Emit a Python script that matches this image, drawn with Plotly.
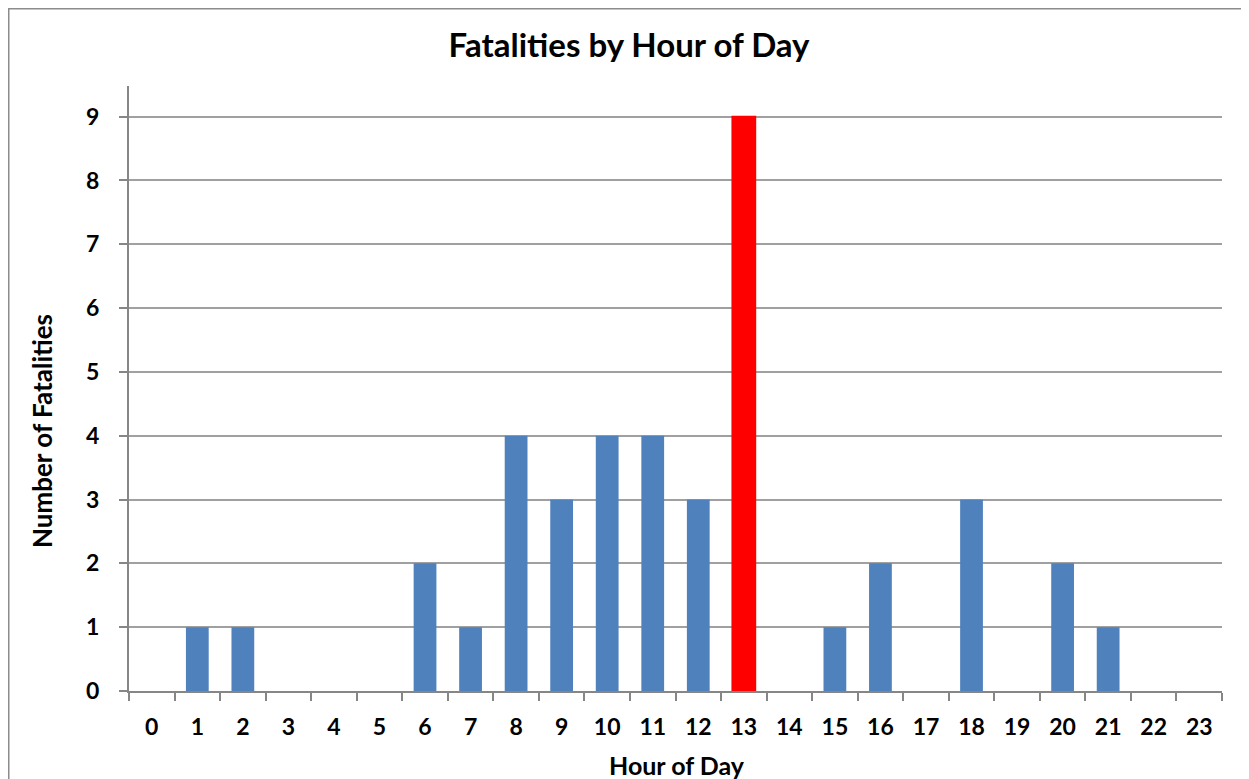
import plotly.graph_objects as go

hours = [str(h) for h in range(24)]
fatalities = [0, 1, 1, 0, 0, 0, 2, 1, 4, 3, 4, 4, 3, 9, 0, 1, 2, 0, 3, 0, 2, 1, 0, 0]
highlight_hour = "13"

BLUE = "#4F81BD"
RED = "#FF0000"
colors = [RED if h == highlight_hour else BLUE for h in hours]
line_w = [2 if h == highlight_hour else 0 for h in hours]

FONT = "Lato"
OFF = 8  # browser body margin

W, H = 1249 - OFF, 779 - OFF
L, T = 129 - OFF, 86 - OFF
R = W - (1222 - OFF)
B = H - (691 - OFF)
pw, ph = W - L - R, H - T - B

fig = go.Figure(go.Bar(
    x=hours, y=fatalities,
    marker=dict(color=colors, line=dict(color=colors, width=line_w)),
    width=0.5,
))

fig.update_layout(
    width=W, height=H,
    margin=dict(l=L, r=R, t=T, b=B),
    paper_bgcolor="white", plot_bgcolor="white",
    showlegend=False,
    font=dict(family=FONT, color="black"),
    title=dict(text="Fatalities by Hour of Day", x=(629 - OFF) / W, xref="container",
               xanchor="center", y=1 - (45 - OFF) / H, yanchor="middle",
               font=dict(size=33, family=FONT, color="black", weight="bold")),
    xaxis=dict(
        type="category", range=[-0.5, 23.5],
        showline=True, linecolor="#868686", linewidth=2,
        ticks="outside", tickson="boundaries", ticklen=8, tickcolor="#868686", tickwidth=1.5,
        tickfont=dict(size=23, family=FONT, color="black", weight="bold"),
        ticklabelstandoff=14,
        showgrid=False,
    ),
    yaxis=dict(
        range=[0, 9.48], tickvals=list(range(10)),
        showline=True, linecolor="#868686", linewidth=2,
        ticks="outside", ticklen=8, tickcolor="#868686", tickwidth=1.5,
        showgrid=True, gridcolor="#A0A0A0", gridwidth=1.5,
        tickfont=dict(size=23, family=FONT, color="black", weight="bold"),
        ticklabelstandoff=15,
        zeroline=False,
    ),
    bargap=0.5,
)

# axis titles
fig.add_annotation(text="Hour of Day", xref="paper", yref="paper",
                   x=(677 - 129) / pw, y=-(765 - 691) / ph, xanchor="center", yanchor="middle",
                   showarrow=False, font=dict(size=25, family=FONT, color="black", weight="bold"))
fig.add_annotation(text="Number of Fatalities", xref="paper", yref="paper",
                   x=-(129 - 42) / pw, y=(691 - 431) / ph, xanchor="center", yanchor="middle",
                   textangle=-90, showarrow=False,
                   font=dict(size=26, family=FONT, color="black", weight="bold"))

# chart frame
fig.add_shape(type="rect", xref="paper", yref="paper",
              x0=-(L - 0.5) / pw, x1=(W + 20 - L) / pw,
              y0=-(B + 30) / ph, y1=(ph + T - 0.5) / ph,
              line=dict(color="#8C8C8C", width=2), fillcolor="rgba(0,0,0,0)", layer="below")

fig.write_html("out.html")
